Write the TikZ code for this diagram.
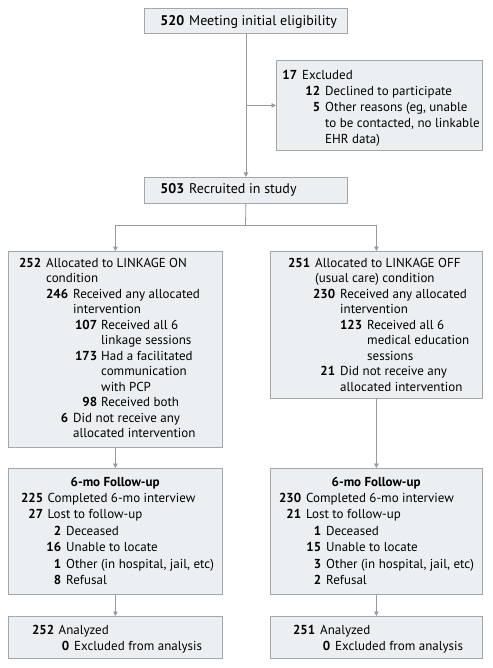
\documentclass[tikz,border=0pt]{standalone}
\usepackage{fontspec}
\setmainfont{PT Sans}
\usetikzlibrary{arrows.meta}
\definecolor{boxfill}{HTML}{ECEFF2}
\definecolor{boxline}{HTML}{A4A7AA}
\definecolor{connline}{HTML}{9A9A9A}
\newcommand\NL[3]{\makebox[#1pt][r]{\bfseries #2}\hspace{\dimexpr#3pt-#1pt\relax}}
\newcommand\CL[1]{\hspace*{#1pt}}
\begin{document}
\begin{tikzpicture}[x=1pt,y=-1pt,
  box/.style={draw=boxline, fill=boxfill, line width=0.8pt, inner sep=0pt, anchor=north west},
  txt/.style={anchor=base west, inner sep=0pt},
  conn/.style={draw=connline, line width=0.8pt},
  arr/.style={conn, -{Triangle[length=4.5pt,width=4.5pt]}}]
\fill[white] (0,0) rectangle (492,668);
\useasboundingbox (0,0) rectangle (492,668);
% boxes
\node[box, minimum width=203pt, minimum height=25pt] (elig) at (144,8) {};
\node[box, minimum width=206pt, minimum height=90pt] (excl) at (276,60) {};
\node[box, minimum width=203pt, minimum height=26pt] (rec) at (144,177) {};
\node[box, minimum width=214pt, minimum height=196pt] (on) at (8,251) {};
\node[box, minimum width=212pt, minimum height=147pt] (off) at (270,251) {};
\node[box, minimum width=214pt, minimum height=126pt] (fuL) at (8,468) {};
\node[box, minimum width=212pt, minimum height=126pt] (fuR) at (270,468) {};
\node[box, minimum width=214pt, minimum height=42pt] (anL) at (8,616) {};
\node[box, minimum width=212pt, minimum height=42pt] (anR) at (270,616) {};
% texts
\node[txt, font=\fontsize{14}{15.5}\selectfont] (elig-t) at (144,25.5)
  {\parbox[t]{200pt}{\NL{40}{520}{45}Meeting initial eligibility}};
\node[txt, font=\fontsize{13}{16}\selectfont] (excl-t) at (276,80)
  {\parbox[t]{206pt}{\NL{21}{17}{26}Excluded\\
   \NL{44}{12}{49}Declined to participate\\
   \NL{44}{5}{49}Other reasons (eg, unable\\
   \CL{49}to be contacted, no linkable\\
   \CL{49}EHR data)}};
\node[txt, font=\fontsize{14}{15.5}\selectfont] (rec-t) at (144,193.5)
  {\parbox[t]{200pt}{\NL{40}{503}{45}Recruited in study}};
\node[txt, font=\fontsize{13}{15.5}\selectfont] (on-t) at (8,267)
  {\parbox[t]{214pt}{\NL{33}{252}{38}Allocated to LINKAGE ON\\
   \CL{38}condition\\
   \NL{60}{246}{65}Received any allocated\\
   \CL{65}intervention\\
   \NL{89}{107}{93}Received all 6\\
   \CL{93}linkage sessions\\
   \NL{89}{173}{93}Had a facilitated\\
   \CL{93}communication\\
   \CL{93}with PCP\\
   \NL{89}{98}{93}Received both\\
   \NL{60}{6}{65}Did not receive any\\
   \CL{65}allocated intervention}};
\node[txt, font=\fontsize{13}{15.5}\selectfont] (off-t) at (270,267)
  {\parbox[t]{212pt}{\NL{40}{251}{45}Allocated to LINKAGE OFF\\
   \CL{45}(usual care) condition\\
   \NL{65}{230}{70}Received any allocated\\
   \CL{70}intervention\\
   \NL{92}{123}{97}Received all 6\\
   \CL{97}medical education\\
   \CL{97}sessions\\
   \NL{65}{21}{70}Did not receive any\\
   \CL{70}allocated intervention}};
\node[txt, font=\fontsize{13}{16.4}\selectfont] (fuL-t) at (8,486)
  {\parbox[t]{214pt}{\makebox[214pt][c]{\bfseries 6-mo Follow-up}\\
   \NL{35}{225}{39.5}Completed 6-mo interview\\
   \NL{35}{27}{39.5}Lost to follow-up\\
   \NL{53}{2}{58}Deceased\\
   \NL{53}{16}{58}Unable to locate\\
   \NL{53}{1}{58}Other (in hospital, jail, etc)\\
   \NL{53}{8}{58}Refusal}};
\node[txt, font=\fontsize{13}{16.4}\selectfont] (fuR-t) at (270,486)
  {\parbox[t]{212pt}{\makebox[212pt][c]{\bfseries 6-mo Follow-up}\\
   \NL{31}{230}{36}Completed 6-mo interview\\
   \NL{31}{21}{36}Lost to follow-up\\
   \NL{51}{1}{56}Deceased\\
   \NL{51}{15}{56}Unable to locate\\
   \NL{51}{3}{56}Other (in hospital, jail, etc)\\
   \NL{51}{2}{56}Refusal}};
\node[txt, font=\fontsize{13}{16.5}\selectfont] (anL-t) at (8,634)
  {\parbox[t]{214pt}{\NL{46}{252}{50.5}Analyzed\\
   \NL{61}{0}{66}Excluded from analysis}};
\node[txt, font=\fontsize{13}{16.5}\selectfont] (anR-t) at (270,634)
  {\parbox[t]{212pt}{\NL{45}{251}{50}Analyzed\\
   \NL{60}{0}{65}Excluded from analysis}};
% connectors
\draw[arr] (elig.south) -- (rec.north);
\draw[arr] (elig.south |- excl.west) -- (excl.west);
\coordinate (fork) at (245.5,225);
\draw[conn] (rec.south) -- (fork);
\draw[arr] (fork) -| (on.north);
\draw[arr] (fork) -| (off.north);
\draw[arr] (on.south) -- (fuL.north);
\draw[arr] (off.south) -- (fuR.north);
\draw[arr] (fuL.south) -- (anL.north);
\draw[arr] (fuR.south) -- (anR.north);
\end{tikzpicture}
\end{document}
